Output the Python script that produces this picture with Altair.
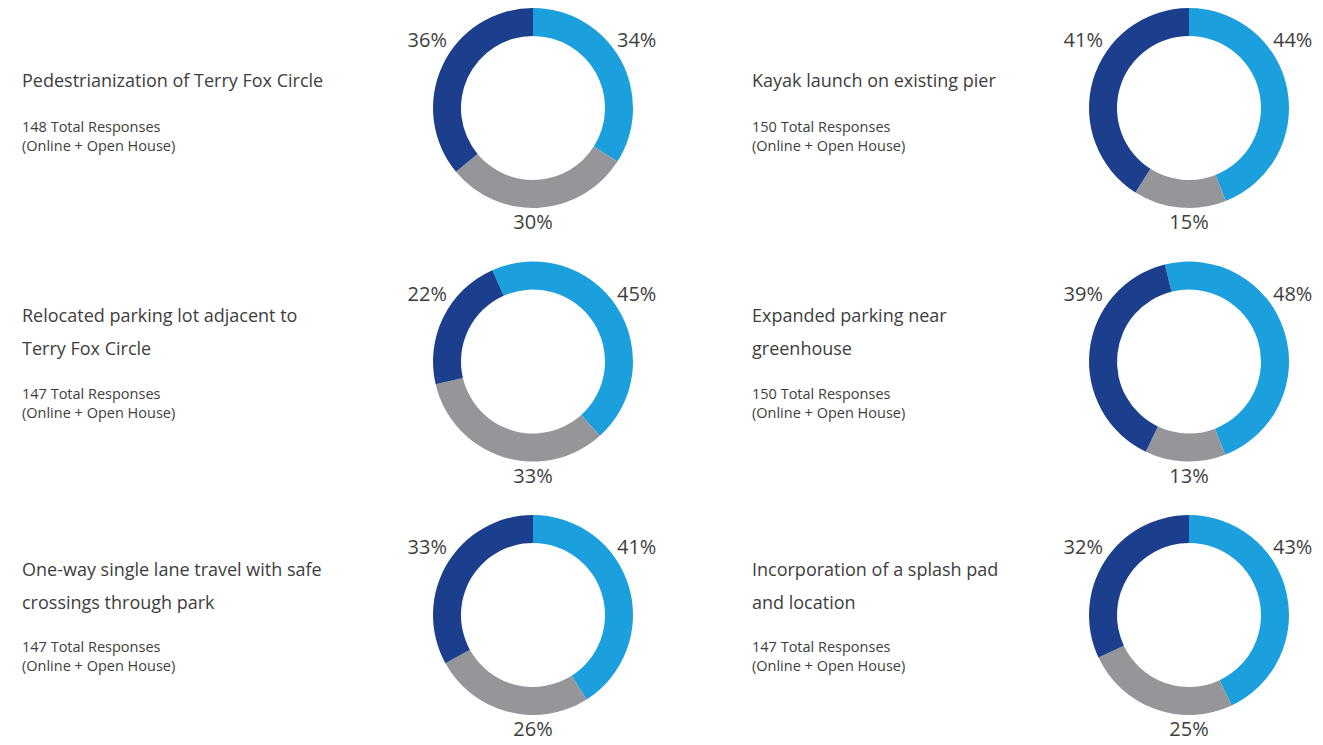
import altair as alt
import pandas as pd

# ---- data ----
titles = [
    "Pedestrianization of Terry Fox Circle",
    "Kayak launch on existing pier",
    "Relocated parking lot adjacent to\nTerry Fox Circle",
    "Expanded parking near\ngreenhouse",
    "One-way single lane travel with safe\ncrossings through park",
    "Incorporation of a splash pad\nand location",
]
total_responses = [148, 150, 147, 150, 147, 147]
grid_col = [0, 1, 0, 1, 0, 1]
grid_row = [0, 0, 1, 1, 2, 2]
light_pct = [34, 44, 45, 48, 41, 43]
gray_pct = [30, 15, 33, 13, 26, 25]
dark_pct = [36, 41, 22, 39, 33, 32]
start_deg = [0, 0, -24, -14, 0, 0]
segments = ["Light", "Gray", "Dark"]
seg_colors = ["#1c9fdd", "#96969a", "#1b3f8d"]

# ---- tables ----
rows = []
for i in range(len(titles)):
    for k, (seg, vals) in enumerate(zip(segments, [light_pct, gray_pct, dark_pct])):
        rows.append(dict(chart=i, col=grid_col[i], row=grid_row[i], seg=seg,
                         order=k, value=vals[i], start=start_deg[i]))
seg_df = pd.DataFrame(rows)

info_df = pd.DataFrame(dict(
    chart=list(range(len(titles))), col=grid_col, row=grid_row, title=titles,
    resp=[f"{n} Total Responses\n(Online + Open House)" for n in total_responses],
))

W, H = 1307, 737
xs = alt.Scale(domain=[0, 1], range=[525, 1181])
xs_text = alt.Scale(domain=[0, 1], range=[14, 744])
ys = alt.Scale(domain=[0, 2], range=[100, 607])
ROW_PX = (607 - 100) / 2

FONT = "Open Sans"
TXT = "#3e3e3e"

base = alt.Chart(seg_df).transform_window(
    cum="sum(value)", groupby=["chart"], sort=[alt.SortField("order")],
    frame=[None, 0]
).transform_calculate(
    t0="(datum.cum - datum.value) / 100 * 2 * PI + datum.start * PI / 180",
    t1="datum.cum / 100 * 2 * PI + datum.start * PI / 180",
    label="datum.value + '%'",
)

arcs = base.mark_arc(outerRadius=100, innerRadius=72).encode(
    x=alt.X("col:Q", scale=xs, axis=None),
    y=alt.Y("row:Q", scale=ys, axis=None),
    theta=alt.Theta("t0:Q", scale=None),
    theta2=alt.Theta2("t1:Q"),
    color=alt.Color("seg:N", scale=alt.Scale(domain=segments, range=seg_colors), legend=None),
)

label_specs = {"Light": (84, -67, "left"), "Dark": (-86, -67, "right"), "Gray": (0, 115, "center")}
label_layers = []
for seg, (dx, dy, align) in label_specs.items():
    label_layers.append(
        base.transform_filter(alt.datum.seg == seg).mark_text(
            dx=dx, dy=dy, align=align, baseline="middle", font=FONT, fontSize=20, color=TXT
        ).encode(
            x=alt.X("col:Q", scale=xs, axis=None),
            y=alt.Y("row:Q", scale=ys, axis=None),
            text="label:N",
        )
    )

info = alt.Chart(info_df).transform_calculate(
    nlines="length(split(datum.title, '\\n'))",
).transform_calculate(
    ty=f"datum.row - (datum.nlines - 1) * 18.5 / {ROW_PX}",
    ry=f"datum.row + (datum.nlines - 1) * 13 / {ROW_PX}",
)

title_layer = info.mark_text(
    align="left", baseline="middle", dy=-26, lineBreak="\n", lineHeight=33,
    font=FONT, fontSize=18, color=TXT
).encode(
    x=alt.X("col:Q", scale=xs_text, axis=None),
    y=alt.Y("ty:Q", scale=ys, axis=None),
    text="title:N",
)

resp_layer = info.mark_text(
    align="left", baseline="middle", dy=20, lineBreak="\n", lineHeight=19,
    font=FONT, fontSize=14.5, color=TXT
).encode(
    x=alt.X("col:Q", scale=xs_text, axis=None),
    y=alt.Y("ry:Q", scale=ys, axis=None),
    text="resp:N",
)

chart = alt.layer(
    arcs, *label_layers, title_layer, resp_layer
).resolve_scale(x="independent").properties(
    width=W, height=H, padding=0, autosize=alt.AutoSizeParams(type="none"),
    background="white",
).configure_view(stroke=None)

chart.save("out.html", embed_options={"renderer": "svg", "actions": False})
